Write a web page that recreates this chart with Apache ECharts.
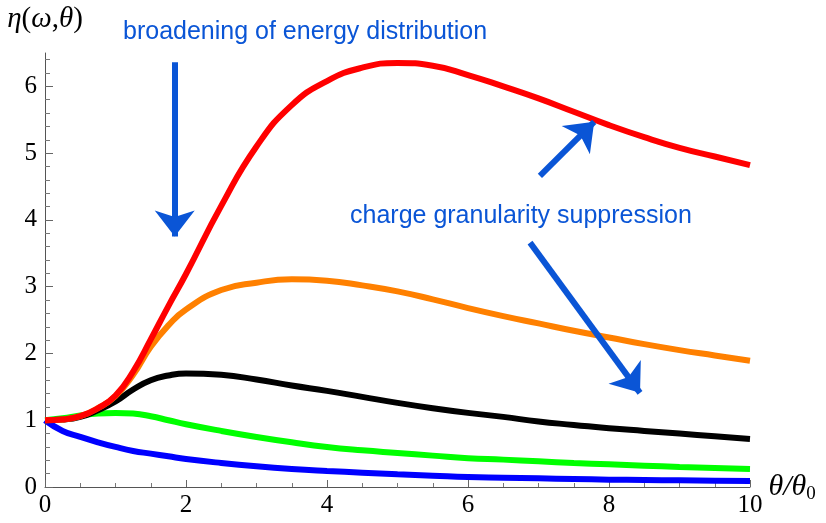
<!DOCTYPE html>
<html>
<head>
<meta charset="utf-8">
<script src="https://cdn.jsdelivr.net/npm/echarts@6/dist/echarts.min.js"></script>
<style>
  html, body { margin: 0; padding: 0; background: #fff; }
  #main { width: 826px; height: 523px; }
</style>
</head>
<body>
<div id="main"></div>
<script>
// theta / theta0 sample points
const thetaValues = [0, 0.25, 0.5, 0.75, 1, 1.25, 1.5, 1.75, 2, 2.5, 3, 3.5, 4, 4.5, 5, 5.5, 6, 6.5, 7, 7.5, 8, 8.5, 9, 9.5, 10];

// eta values, one curve per colour
const redValues    = [1, 1.01, 1.06, 1.18, 1.37, 1.73, 2.21, 2.71, 3.19, 4.21, 5.10, 5.72, 6.08, 6.28, 6.35, 6.31, 6.17, 6.00, 5.82, 5.62, 5.42, 5.24, 5.08, 4.95, 4.82];
const orangeValues = [1, 1.01, 1.06, 1.18, 1.36, 1.68, 2.10, 2.42, 2.66, 2.95, 3.06, 3.11, 3.09, 3.02, 2.93, 2.81, 2.68, 2.56, 2.45, 2.34, 2.24, 2.14, 2.05, 1.97, 1.89];
const blackValues  = [1, 1.01, 1.05, 1.15, 1.28, 1.46, 1.60, 1.67, 1.70, 1.68, 1.61, 1.52, 1.44, 1.35, 1.26, 1.18, 1.11, 1.05, 0.98, 0.93, 0.88, 0.84, 0.80, 0.76, 0.72];
const greenValues  = [1, 1.03, 1.07, 1.10, 1.11, 1.10, 1.06, 1.00, 0.94, 0.84, 0.75, 0.67, 0.60, 0.55, 0.51, 0.47, 0.43, 0.41, 0.385, 0.36, 0.34, 0.32, 0.30, 0.285, 0.27];
const blueValues   = [1, 0.84, 0.75, 0.67, 0.60, 0.54, 0.50, 0.46, 0.42, 0.36, 0.31, 0.27, 0.24, 0.215, 0.19, 0.17, 0.15, 0.14, 0.13, 0.12, 0.11, 0.105, 0.10, 0.095, 0.09];

// tick values of the y axis
const yMajorTicks = [0, 1, 2, 3, 4, 5, 6];
const yMinorTicks = [];
for (let i = 1; i <= 32; i++) {
  if (i % 5 !== 0) yMinorTicks.push(+(i * 0.2).toFixed(1));
}

// annotation arrows: [start, tip] in data coordinates
const arrowBroadening = [[1.84, 6.36], [1.84, 3.75]];
const arrowUp = [[7.02, 4.66], [7.79, 5.47]];
const arrowDown = [[6.88, 3.66], [8.44, 1.41]];

const ANNOT_BLUE = '#0a55d6';
const SERIF = '"Liberation Serif", "Times New Roman", serif';
const SANS = '"Liberation Sans", Arial, Helvetica, sans-serif';

function pairs(ys) {
  return thetaValues.map((x, i) => [x, ys[i]]);
}

function curve(name, color, ys, extra) {
  return Object.assign({
    name: name,
    type: 'line',
    data: pairs(ys),
    smooth: 0.5,
    showSymbol: false,
    silent: true,
    lineStyle: { color: color, width: 6 },
    itemStyle: { color: color }
  }, extra || {});
}

function arrow(pts) {
  return [
    { coord: pts[0], symbol: 'none' },
    { coord: pts[1], symbol: 'arrow' }
  ];
}

const option = {
  animation: false,
  backgroundColor: '#fff',
  grid: { left: 45, right: 76, top: 53, bottom: 36 },
  xAxis: {
    type: 'value',
    min: 0,
    max: 10,
    interval: 2,
    name: '{i|θ/θ}{s|0}',
    nameLocation: 'end',
    nameGap: 16,
    nameTextStyle: {
      rich: {
        i: { fontFamily: SERIF, fontStyle: 'italic', fontSize: 30, color: '#000' },
        s: { fontFamily: SERIF, fontSize: 19, color: '#000', padding: [14, 0, 0, 0] }
      }
    },
    axisLine: { lineStyle: { color: '#555', width: 1 } },
    axisTick: { inside: true, length: 7, lineStyle: { color: '#666' } },
    minorTick: { show: true, splitNumber: 4, length: 4, lineStyle: { color: '#777' } },
    axisLabel: { fontFamily: SERIF, fontSize: 25, color: '#000', margin: 6 },
    splitLine: { show: false }
  },
  yAxis: [
    {
      type: 'value',
      min: 0,
      max: 6.5,
      name: '{i|η}{n|(}{i|ω}{n|,}{i|θ}{n|)}',
      nameLocation: 'end',
      nameGap: 34,
      nameTextStyle: {
        align: 'center',
        verticalAlign: 'middle',
        rich: {
          i: { fontFamily: SERIF, fontStyle: 'italic', fontSize: 29, color: '#000' },
          n: { fontFamily: SERIF, fontSize: 29, color: '#000' }
        }
      },
      axisLine: { show: true, lineStyle: { color: '#555', width: 1 } },
      axisTick: { show: true, inside: true, length: 8, customValues: yMajorTicks, lineStyle: { color: '#666' } },
      axisLabel: { fontFamily: SERIF, fontSize: 25, color: '#000', margin: 8, customValues: yMajorTicks },
      splitLine: { show: false }
    },
    {
      type: 'value',
      min: 0,
      max: 6.5,
      position: 'left',
      axisLine: { show: false },
      axisTick: { show: true, inside: true, length: 5, customValues: yMinorTicks, lineStyle: { color: '#777' } },
      axisLabel: { show: false, customValues: yMinorTicks },
      splitLine: { show: false }
    }
  ],
  series: [
    curve('blue', '#0000ff', blueValues),
    curve('green', '#00ff00', greenValues),
    curve('black', '#000000', blackValues),
    curve('orange', '#ff8000', orangeValues),
    curve('red', '#ff0000', redValues, {
      markLine: {
        silent: true,
        animation: false,
        symbolSize: [30, 26],
        label: { show: false },
        emphasis: { disabled: true },
        lineStyle: { color: ANNOT_BLUE, width: 6, type: 'solid' },
        data: [arrow(arrowBroadening), arrow(arrowUp), arrow(arrowDown)]
      }
    })
  ],
  graphic: [
    {
      type: 'text',
      left: 123,
      top: 20,
      silent: true,
      style: { text: 'broadening of energy distribution', fill: ANNOT_BLUE, font: '25px ' + SANS }
    },
    {
      type: 'text',
      left: 350,
      top: 204,
      silent: true,
      style: { text: 'charge granularity suppression', fill: ANNOT_BLUE, font: '25px ' + SANS }
    }
  ]
};

const chartDom = document.getElementById('main');
const myChart = echarts.init(chartDom);
myChart.setOption(option);
</script>
</body>
</html>
